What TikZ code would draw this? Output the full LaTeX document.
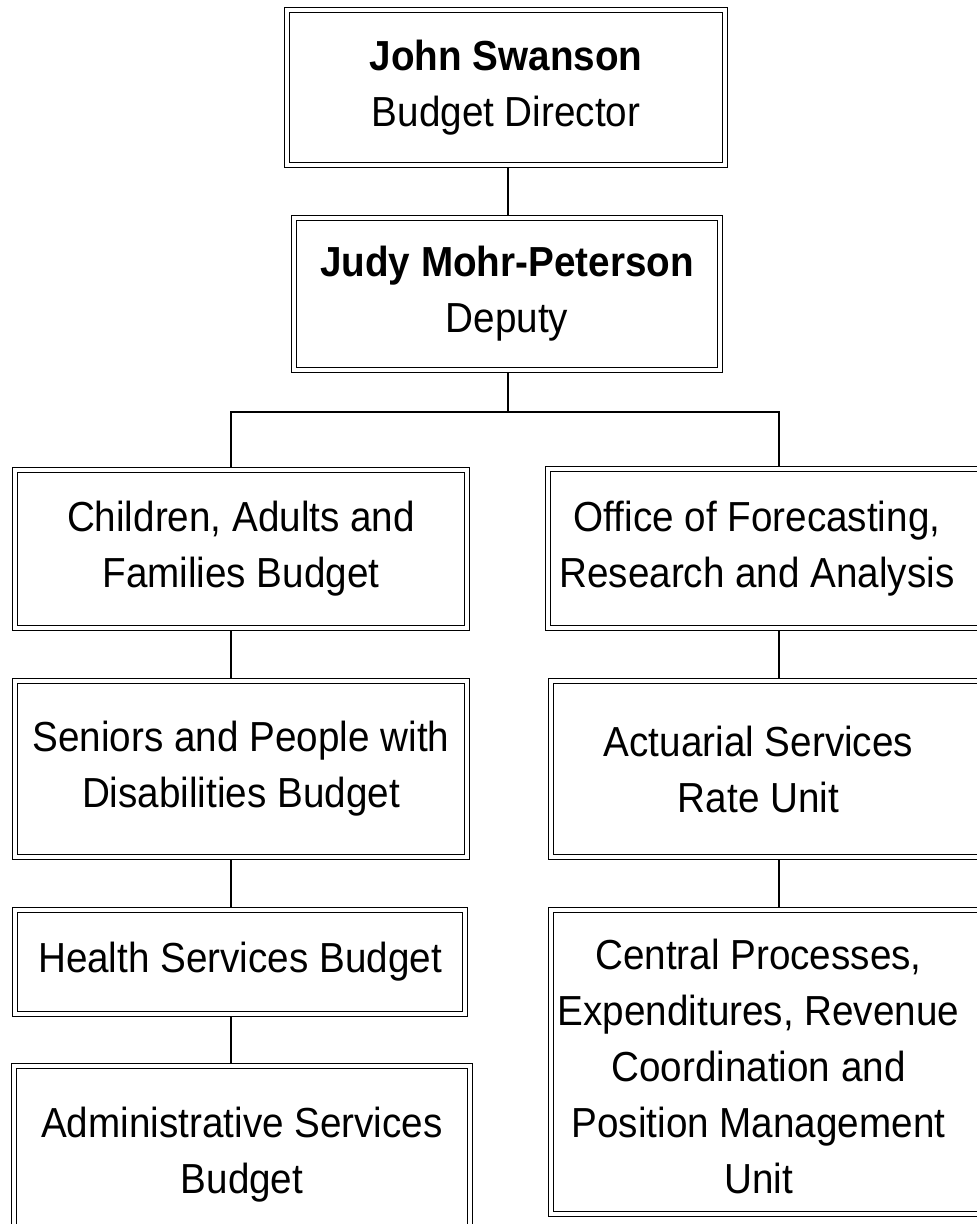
\documentclass[tikz,border=0pt]{standalone}
\usepackage{fontspec}
\setmainfont[FakeStretch=0.92]{Liberation Sans}
\tikzset{
  unitbox/.style={draw, line width=0.6pt, double, double distance=1.7pt, outer sep=1.45pt, inner sep=0pt},
  unittext/.style={align=center, font=\fontsize{21pt}{28pt}\selectfont},
  link/.style={line width=0.6pt}
}
\begin{document}
\begin{tikzpicture}[x=0.5pt, y=-0.5pt]
            \useasboundingbox (0,0) rectangle (977,1224);
            \clip (0,0) rectangle (977,1224);
            \node[unitbox, unittext, minimum width=219pt, minimum height=77.5pt] (director) at (506,87.5) {\textbf{John Swanson}\\Budget Director};
            \node[unitbox, unittext, minimum width=213pt, minimum height=76pt] (deputy) at (507,294) {\textbf{Judy Mohr-Peterson}\\Deputy};
            \node[unitbox, unittext, minimum width=226pt, minimum height=79pt] (children) at (241,549) {Children, Adults and\\Families Budget};
            \node[unitbox, unittext, minimum width=226pt, minimum height=88pt] (seniors) at (241,769) {Seniors and People with\\Disabilities Budget};
            \node[unitbox, unittext, minimum width=225pt, minimum height=52pt] (health) at (240,962) {Health Services Budget};
            \node[unitbox, unittext, minimum width=228pt, minimum height=89pt] (admin) at (242,1155) {Administrative Services\\Budget};
            \node[unitbox, minimum width=231pt, minimum height=79.5pt] (forecast) at (779,548.5) {};
            \node[unittext] at ([xshift=-11pt]forecast.center) {Office of Forecasting,\\Research and Analysis};
            \node[unitbox, minimum width=229.5pt, minimum height=88pt] (actuarial) at (780.5,769) {};
            \node[unittext] at ([xshift=-11pt]actuarial.center) {Actuarial Services\\Rate Unit};
            \node[unitbox, minimum width=229.5pt, minimum height=152pt] (central) at (780.5,1062) {};
            \node[unittext] at ([xshift=-11pt, yshift=-2pt]central.center) {Central Processes,\\Expenditures, Revenue\\Coordination and\\Position Management\\Unit};
            \coordinate (busM) at (508,412);
            \coordinate (busL) at (231,412);
            \coordinate (busR) at (779,412);
            \draw[link] (director.south -| busM) -- (deputy.north -| busM);
            \draw[link] (deputy.south -| busM) -- (busM);
            \draw[link] (busL |- children.north) -- (busL) -- (busR) -- (busR |- forecast.north);
            \draw[link] (children.south -| busL) -- (seniors.north -| busL);
            \draw[link] (seniors.south -| busL) -- (health.north -| busL);
            \draw[link] (health.south -| busL) -- (admin.north -| busL);
            \draw[link] (forecast.south -| busR) -- (actuarial.north -| busR);
            \draw[link] (actuarial.south -| busR) -- (central.north -| busR);
        \end{tikzpicture}
\end{document}
